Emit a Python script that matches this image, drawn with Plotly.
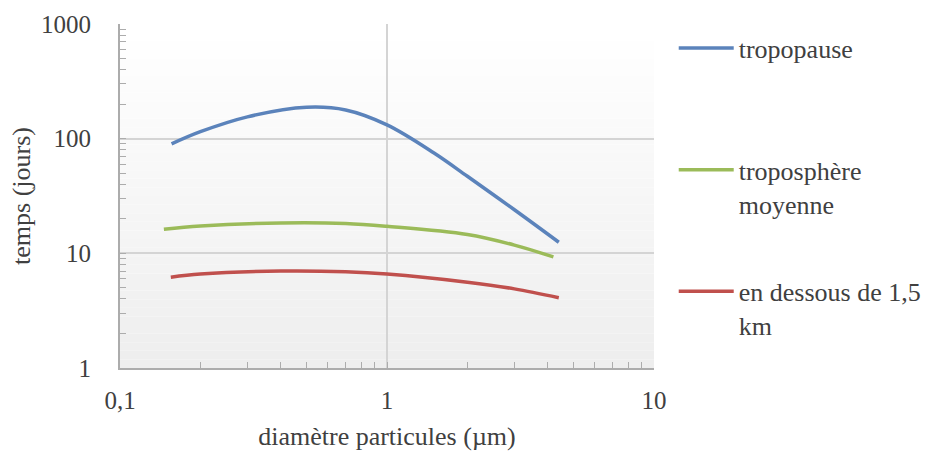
import plotly.graph_objects as go

# Data
diam_tropopause = [0.156, 0.2, 0.3, 0.5, 0.7, 1.0, 1.5, 2.0, 3.0, 4.4]
temps_tropopause = [90, 115, 155, 188, 178, 132, 75, 47, 24, 12.5]

diam_moyenne = [0.146, 0.2, 0.4, 0.7, 1.0, 2.0, 3.0, 4.2]
temps_moyenne = [16.2, 17.3, 18.4, 18.2, 17.2, 14.6, 11.8, 9.3]

diam_bas = [0.155, 0.2, 0.4, 0.7, 1.0, 2.0, 3.0, 4.4]
temps_bas = [6.2, 6.6, 7.0, 6.9, 6.6, 5.6, 4.9, 4.1]

series_names = ["tropopause", "troposphère<br>moyenne", "en dessous de 1,5<br>km"]
x_tickvals = [0.1, 1, 10]
x_ticktext = ["0,1", "1", "10"]
y_tickvals = [1, 10, 100, 1000]
y_ticktext = ["1", "10", "100", "1000"]
minor_vals = [m * d for d in (0.1, 1, 10, 100) for m in range(2, 10)]

colors = ["#5b83bb", "#9bbb59", "#c0504d"]
font_family = '"Liberation Serif", "Times New Roman", serif'
text_color = "#404040"

fig = go.Figure()
series = [(diam_tropopause, temps_tropopause), (diam_moyenne, temps_moyenne), (diam_bas, temps_bas)]
for i, ((xs, ys), name) in enumerate(zip(series, series_names)):
    label = name if "<br>" in name else name + "<br>\u00a0"
    fig.add_trace(go.Scatter(
        x=xs, y=ys, mode="lines", name=label,
        line=dict(color=colors[i], width=3.5, shape="spline", smoothing=1.0),
        legendgroup=f"g{i}",
    ))

# background gradient (white -> light gray)
n = 40
shapes = []
for k in range(n):
    t = k / (n - 1)
    v = int(round(255 - 17 * (1 - t)))
    shapes.append(dict(type="rect", xref="x domain", yref="y domain",
                       x0=0, x1=1, y0=k / n, y1=(k + 1) / n,
                       fillcolor=f"rgb({v},{v},{v})", line=dict(width=0), layer="below"))

fig.update_layout(
    width=937, height=459,
    margin=dict(l=120, r=282, t=24, b=91),
    paper_bgcolor="white", plot_bgcolor="white",
    font=dict(family=font_family, size=25, color=text_color),
    shapes=shapes,
    showlegend=True,
    legend=dict(x=1.035, y=0.998, xanchor="left", yanchor="top",
                traceorder="grouped", tracegroupgap=51, valign="top",
                itemwidth=55, font=dict(family=font_family, size=26, color=text_color),
                bgcolor="rgba(0,0,0,0)"),
)

fig.update_xaxes(
    type="log", range=[-1, 1], automargin=False,
    tickvals=x_tickvals, ticktext=x_ticktext,
    showgrid=True, gridcolor="#d4d4d4", gridwidth=1.5,
    showline=True, linecolor="#acacac", linewidth=2,
    ticks="inside", ticklen=6, tickcolor="#acacac",
    ticklabelstandoff=9,
    tickfont=dict(family=font_family, size=25, color=text_color),
    minor=dict(tickvals=minor_vals, ticks="inside", ticklen=6, tickcolor="#acacac", showgrid=False),
    title=dict(text="diamètre particules (µm)", font=dict(family=font_family, size=26, color=text_color), standoff=14),
    zeroline=False,
)
fig.update_yaxes(
    type="log", range=[0, 3], automargin=False,
    tickvals=y_tickvals, ticktext=y_ticktext,
    showgrid=True, gridcolor="#d4d4d4", gridwidth=1.5,
    showline=True, linecolor="#acacac", linewidth=2,
    ticks="inside", ticklen=6, tickcolor="#acacac",
    ticklabelstandoff=22,
    tickfont=dict(family=font_family, size=25, color=text_color),
    minor=dict(tickvals=minor_vals, ticks="inside", ticklen=6, tickcolor="#acacac", showgrid=False),
    title=dict(text="temps (jours)", font=dict(family=font_family, size=26, color=text_color), standoff=3),
    zeroline=False,
)

fig.write_html("out.html", config={"displayModeBar": False},
               post_script="document.body.style.margin='0';")
